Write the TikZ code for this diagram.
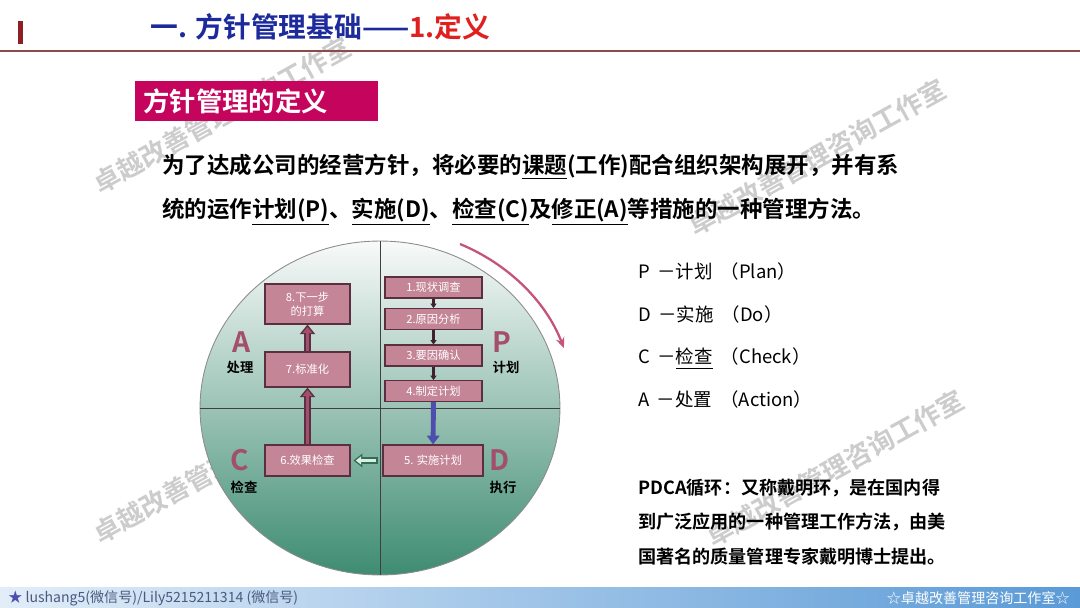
\documentclass[tikz,border=0pt]{standalone}
\usepackage{fontspec}
\setmainfont{Noto Sans CJK SC}[BoldFont={Noto Sans CJK SC Bold}]
\usetikzlibrary{positioning, arrows.meta, shapes.geometric}

\definecolor{titleblue}{HTML}{1C2A9C}
\definecolor{titlered}{HTML}{E0201E}
\definecolor{barred}{HTML}{8E1F24}
\definecolor{rulered}{HTML}{8C4A4A}
\definecolor{tagpink}{HTML}{C5045E}
\definecolor{boxfill}{HTML}{C48597}
\definecolor{boxline}{HTML}{5A3040}
\definecolor{mauve}{HTML}{A34E6C}
\definecolor{stepblue}{HTML}{4E4EAE}
\definecolor{dkgreen}{HTML}{2F6E55}
\definecolor{palegreen}{HTML}{DCEBE4}
\definecolor{wheeltop}{HTML}{F8FAF9}
\definecolor{wheelmid}{HTML}{D9E6E0}
\definecolor{wheelbot}{HTML}{3E8C72}
\definecolor{cycpink}{HTML}{C55477}
\definecolor{barleft}{HTML}{E2EDF8}
\definecolor{barright}{HTML}{5A9AD6}
\definecolor{footgrey}{HTML}{4A5A80}

\begin{document}
\begin{tikzpicture}[
    x=0.02cm, y=-0.02cm,
    every node/.style={inner sep=0pt},
    wmark/.style={font=\bfseries\fontsize{15}{15}\selectfont, text=black!20, rotate=29},
    tag/.style={
        rectangle,
        fill=tagpink,
        text=white,
        inner xsep=0.16cm,
        text width=4.54cm,
        minimum height=0.8cm,
        align=left,
        font=\bfseries\fontsize{15}{15}\selectfont
    },
    para/.style={align=left, font=\bfseries\fontsize{12.8}{25}\selectfont},
    stepbox/.style={
        rectangle,
        draw=boxline,
        line width=0.6pt,
        fill=boxfill,
        text=white,
        align=center,
        font=\fontsize{6.4}{8}\selectfont
    },
    phase/.style={font=\bfseries\fontsize{16}{16}\selectfont, text=mauve},
    phasenote/.style={font=\bfseries\fontsize{7.6}{8}\selectfont},
    link/.style={-{Triangle[length=2.5pt,width=3.5pt]}, line width=1.5pt, draw=boxline!70!black},
    uparrow/.style={
        line width=3.6pt, draw=boxline, -{Triangle[length=5.5pt,width=8.5pt]},
        postaction={draw=mauve, line width=2pt, -{Triangle[length=3.5pt,width=5.5pt]}, shorten >=1.4pt}
    },
    downarrow/.style={line width=2.8pt, draw=stepblue, -{Triangle[length=5pt,width=7pt]}},
    hollow/.style={
        line width=3.6pt, draw=dkgreen, -{Triangle[length=5pt,width=7.5pt]},
        shorten <=2.8pt, shorten >=1.7pt,
        postaction={draw=palegreen, line width=1.8pt, -{Triangle[length=3pt,width=4.5pt]},
            shorten <=3.6pt, shorten >=3pt}
    },
    cycarrow/.style={draw=cycpink, line width=1.3pt, -{Stealth[length=6pt,width=5pt]}},
    pdlist/.style={align=left, font=\fontsize{10.5}{24.4}\selectfont},
    note/.style={align=left, font=\bfseries\fontsize{10.3}{19.8}\selectfont}
]
\useasboundingbox (0,0) rectangle (1080,608);

% watermarks
\node[wmark] (wm1) at (222,115) {卓越改善管理咨询工作室};
\node[wmark] (wm2) at (817,157) {卓越改善管理咨询工作室};
\node[wmark] (wm3) at (222,465) {卓越改善管理咨询工作室};
\node[wmark] (wm4) at (835,468) {卓越改善管理咨询工作室};

% header
\fill[barred] (18,21) rectangle (23,44);
\node[anchor=west, font=\bfseries\fontsize{15.8}{16}\selectfont] (title) at (150,27)
    {\textcolor{titleblue}{一. 方针管理基础——}\textcolor{titlered}{1.定义}};
\draw[rulered, line width=0.9pt] (0,51) -- (1080,51);

\node[tag, anchor=west] (tag) at (135,101) {方针管理的定义};

\node[para, anchor=west] (defn) at (162,190) {
    为了达成公司的经营方针，将必要的\underline{课题}(工作)配合组织架构展开，并有系\\
    统的运作\underline{计划(P)}、\underline{实施(D)}、\underline{检查(C)}及\underline{修正(A)}等措施的一种管理方法。
};

% PDCA wheel
\node[ellipse, minimum width=7.2cm, minimum height=6.68cm, draw=black!45, line width=0.5pt,
    top color=wheeltop, middle color=wheelmid, bottom color=wheelbot] (wheel) at (380,408) {};
\draw[black!75, line width=0.5pt] (wheel.west) -- (wheel.east);
\draw[black!75, line width=0.5pt] (wheel.north) -- (wheel.south);

\coordinate (cyc) at (460,244);
\draw[cycarrow] (cyc) arc[start angle=-65.8, end angle=-19.5, x radius=195, y radius=180];

\node[stepbox, minimum width=1.94cm, minimum height=0.42cm] (s1) at (433.5,287.5) {1.现状调查};
\node[stepbox, minimum width=1.94cm, minimum height=0.42cm] (s2) at (433.5,319) {2.原因分析};
\node[stepbox, minimum width=1.94cm, minimum height=0.42cm] (s3) at (433.5,355.5) {3.要因确认};
\node[stepbox, minimum width=1.94cm, minimum height=0.42cm] (s4) at (433.5,391) {4.制定计划};
\node[stepbox, minimum width=2.0cm, minimum height=0.62cm] (s5) at (433,460.5) {5. 实施计划};
\node[stepbox, minimum width=1.7cm, minimum height=0.62cm] (s6) at (307.5,460.5) {6.效果检查};
\node[stepbox, minimum width=1.7cm, minimum height=0.7cm] (s7) at (307.5,369.5) {7.标准化};
\node[stepbox, minimum width=1.7cm, minimum height=0.8cm] (s8) at (307.5,304) {8.下一步\\的打算};

\draw[link] (s1) -- (s2);
\draw[link] (s2) -- (s3);
\draw[link] (s3) -- (s4);
\draw[downarrow] (s4) -- (s5);
\draw[hollow] (s5) -- (s6);
\draw[uparrow] (s6) -- (s7);
\draw[uparrow] (s7) -- (s8);

\node[phase] (pa) at (242,342) {A};
\node[phasenote] (pan) at (240,367) {处理};
\node[phase] (pp) at (502,342) {P};
\node[phasenote] (ppn) at (506,367) {计划};
\node[phase] (pc) at (240,460) {C};
\node[phasenote] (pcn) at (244,487) {检查};
\node[phase] (pd) at (500,460) {D};
\node[phasenote] (pdn) at (503,487) {执行};

% legend and note
\node[pdlist, anchor=west] (pdca) at (638,335.5) {
    P \,－计划 \ （Plan）\\
    D \,－实施 \ （Do）\\
    C \,－\underline{检查} \ （Check）\\
    A \,－处置 \ （Action）
};
\node[note, anchor=west] (pdcanote) at (638,522) {
    PDCA循环：又称戴明环，是在国内得\\
    到广泛应用的一种管理工作方法，由美\\
    国著名的质量管理专家戴明博士提出。
};

% footer
\shade[left color=barleft, right color=barright] (0,587) rectangle (1080,608);
\node[anchor=west, text=footgrey, font=\fontsize{8}{8}\selectfont] (footl) at (8,598)
    {\textcolor{stepblue}{★} lushang5(微信号)/Lily5215211314 (微信号)};
\node[anchor=east, text=white, font=\fontsize{8}{8}\selectfont] (footr) at (1070,598)
    {☆卓越改善管理咨询工作室☆};

\end{tikzpicture}
\end{document}
